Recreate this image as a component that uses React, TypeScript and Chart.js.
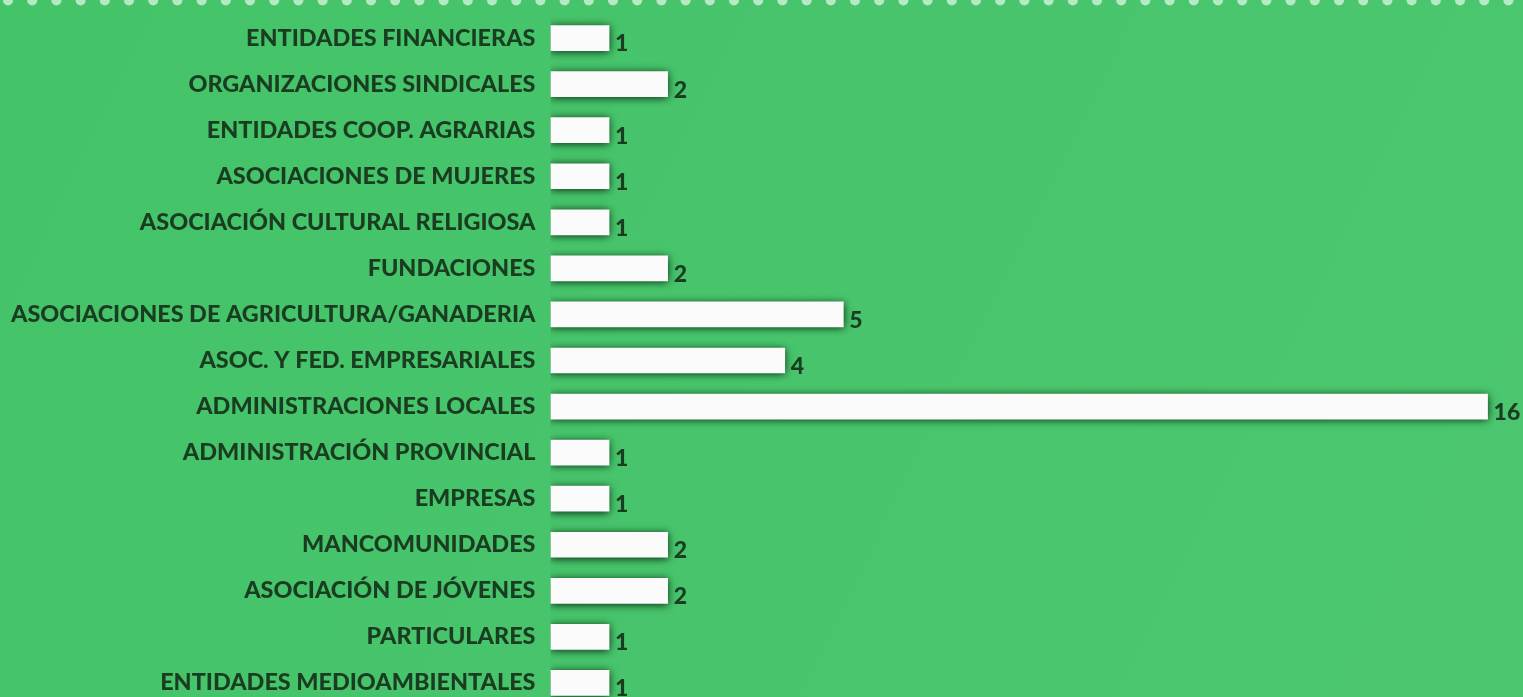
import React, { useEffect, useRef } from "react";
import { Chart, registerables } from "chart.js";

Chart.register(...registerables);

const categories = [
  "ENTIDADES FINANCIERAS",
  "ORGANIZACIONES SINDICALES",
  "ENTIDADES COOP. AGRARIAS",
  "ASOCIACIONES DE MUJERES",
  "ASOCIACIÓN CULTURAL RELIGIOSA",
  "FUNDACIONES",
  "ASOCIACIONES DE AGRICULTURA/GANADERIA",
  "ASOC. Y FED. EMPRESARIALES",
  "ADMINISTRACIONES LOCALES",
  "ADMINISTRACIÓN PROVINCIAL",
  "EMPRESAS",
  "MANCOMUNIDADES",
  "ASOCIACIÓN DE JÓVENES",
  "PARTICULARES",
  "ENTIDADES MEDIOAMBIENTALES",
];
const counts = [1, 2, 1, 1, 1, 2, 5, 4, 16, 1, 1, 2, 2, 1, 1];

const TEXT = "#1a3d22";
const FONT = "Lato, 'Open Sans', sans-serif";
const SHIFT = 14;

const bgPlugin = {
  id: "bg",
  beforeDraw(chart: any) {
    const { ctx, width, height } = chart;
    ctx.save();
    const g = ctx.createLinearGradient(0, 0, width, height);
    g.addColorStop(0, "#44c369");
    g.addColorStop(1, "#4cc76f");
    ctx.fillStyle = g;
    ctx.fillRect(0, 0, width, height);
    ctx.fillStyle = "rgba(220,245,225,0.75)";
    for (let x = 8; x < width; x += 24.2) {
      ctx.beginPath();
      ctx.arc(x, SHIFT + 0.5, 5, 0, Math.PI * 2);
      ctx.fill();
    }
    ctx.restore();
  },
  beforeDatasetsDraw(chart: any) {
    const ctx = chart.ctx;
    ctx.save();
    ctx.shadowColor = "rgba(8,45,18,1)";
    ctx.shadowBlur = 8;
    ctx.shadowOffsetX = 0;
    ctx.shadowOffsetY = 1;
  },
  afterDatasetsDraw(chart: any) {
    const ctx = chart.ctx;
    ctx.restore();
    const meta = chart.getDatasetMeta(0);
    ctx.save();
    ctx.fillStyle = TEXT;
    ctx.font = `900 23px ${FONT}`;
    ctx.textAlign = "left";
    ctx.textBaseline = "middle";
    meta.data.forEach((bar: any, i: number) => {
      ctx.fillText(String(counts[i]), bar.x + 6, bar.y + 6);
    });
    ctx.restore();
  },
};

export default function App() {
  const ref = useRef<HTMLCanvasElement>(null);
  useEffect(() => {
    document.body.style.margin = "0";
    const chart = new Chart(ref.current!, {
      type: "bar",
      data: {
        labels: categories,
        datasets: [
          {
            data: counts,
            backgroundColor: "#fbfbfb",
            borderWidth: 0,
            barThickness: 25,
          },
        ],
      },
      options: {
        indexAxis: "y",
        animation: false,
        responsive: false,
        maintainAspectRatio: false,
        layout: { padding: { top: 0, bottom: 0, right: 12, left: -4 } },
        plugins: { legend: { display: false }, tooltip: { enabled: false } },
        scales: {
          x: {
            display: false,
            min: 0,
            max: 16.4,
          },
          y: {
            offset: true,
            grid: { display: false, drawTicks: false },
            border: { display: false },
            ticks: {
              color: TEXT,
              padding: 15,
              font: { family: FONT, weight: "900", size: 23.4 },
            },
          },
        },
      },
      plugins: [bgPlugin],
    });
    return () => chart.destroy();
  }, []);
  return (
    <div style={{ width: 1523, height: 697, overflow: "hidden" }}>
      <canvas
        ref={ref}
        width={1523}
        height={749}
        style={{ display: "block", marginTop: -SHIFT }}
      />
    </div>
  );
}
